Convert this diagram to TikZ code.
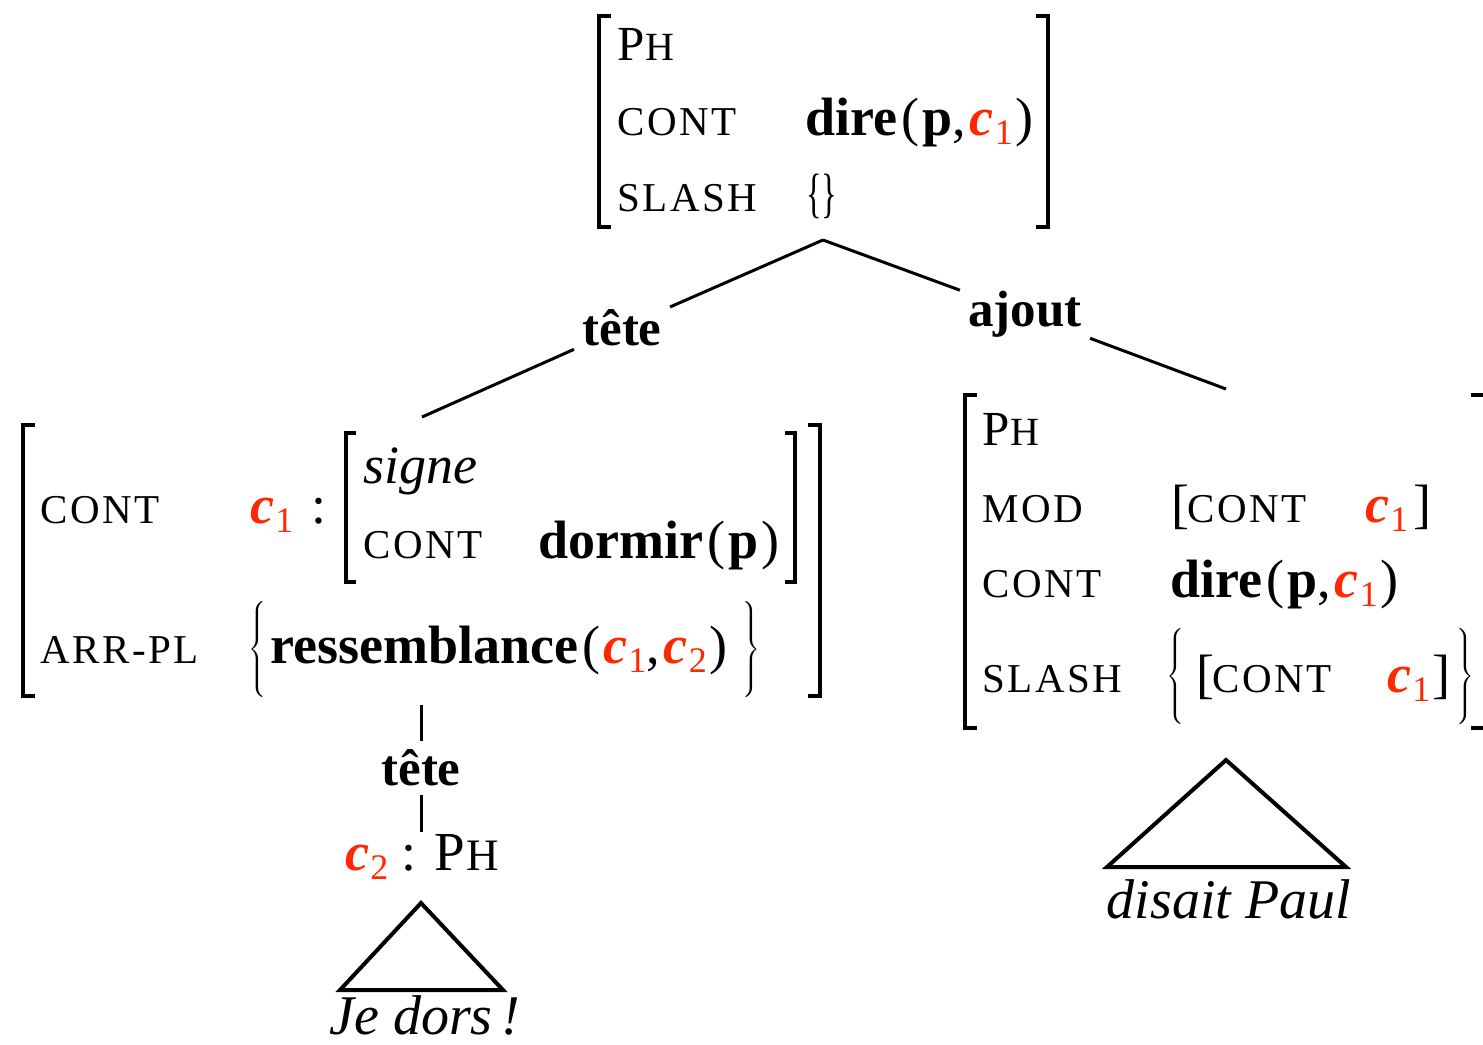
\documentclass[tikz,border=0pt]{standalone}
\usepackage{fontspec}
\setmainfont{Liberation Serif}
\newfontfamily\featfont[LetterSpace=6]{Liberation Serif}
\usepackage{xcolor}
\definecolor{cred}{RGB}{255,40,0}
\newcommand{\feat}[1]{{\featfont\fontsize{20.5}{24}\selectfont #1}}
\newcommand{\phx}{{\fontsize{24.5}{28}\selectfont P\kern0.5pt{\fontsize{20}{24}\selectfont H}}}
\newcommand{\redc}[1]{\textcolor{cred}{\textbf{\textit{c}}\kern0.5pt\raisebox{-4.5pt}{\fontsize{18}{18}\selectfont #1}}}
\newcommand{\lpar}{\kern2pt(\kern1.5pt}
\newcommand{\rpar}{\kern1.5pt)}
\newcommand{\cma}{,\kern2pt}
\newcommand{\tallL}{{\fontsize{12}{14}\selectfont$\delimitershortfall=0pt\delimiterfactor=1000\nulldelimiterspace=0pt\left\{\vrule height 25pt depth 19pt width 0pt\right.$}}
\newcommand{\tallR}{{\fontsize{12}{14}\selectfont$\delimitershortfall=0pt\delimiterfactor=1000\nulldelimiterspace=0pt\left.\vrule height 25pt depth 19pt width 0pt\right\}$}}
\tikzset{
  val/.style={anchor=base west, inner sep=0pt, font=\fontsize{27}{32}\selectfont},
  fl/.style={anchor=base west, inner sep=0pt},
  bracenode/.style={anchor=west, inner sep=0pt},
  edgelab/.style={font=\fontsize{25.5}{30}\selectfont\bfseries, inner sep=4pt},
  br/.style={line width=2.1pt, line join=miter},
  tree/.style={line width=1.5pt},
  tri/.style={line width=2pt, line join=miter},
  lexi/.style={anchor=base, inner sep=0pt, font=\fontsize{28}{32}\selectfont\itshape},
}
\begin{document}
\begin{tikzpicture}[x=0.5pt,y=-0.5pt]
\clip (0,0) rectangle (1483,1044);
\fill[white] (0,0) rectangle (1483,1044);

% ---------- top AVM ----------
\draw[br] (611,16) -- (599,16) -- (599,227) -- (611,227);
\draw[br] (1036,16) -- (1048,16) -- (1048,227) -- (1036,227);
\node[fl] (a-ph) at (617,60) {\phx};
\node[fl] (a-cont) at (617,135) {\feat{CONT}};
\node[val] (a-contv) at (805,135) {\textbf{dire}\lpar\textbf{p}\cma\redc{1}\rpar};
\node[fl] (a-slash) at (617,211) {\feat{SLASH}};
\node[val] (a-slashv) at (806,211) {\scalebox{0.6}[1]{\{\}}};

% ---------- tree edges ----------
\coordinate (topfoot) at (823,240);
\node[edgelab] (tete1) at (622,328) {tête};
\node[edgelab] (ajout) at (1025,314) {ajout};
\coordinate (lroot) at (422,417);
\coordinate (rroot) at (1226,389);
\draw[tree] (topfoot) -- (tete1);
\draw[tree] (tete1) -- (lroot);
\draw[tree] (topfoot) -- (ajout);
\draw[tree] (ajout) -- (rroot);

% ---------- left AVM ----------
\draw[br] (35,425) -- (23,425) -- (23,696) -- (35,696);
\draw[br] (808,425) -- (820,425) -- (820,696) -- (808,696);
\draw[line width=1.6pt] (356,433) -- (346,433) -- (346,582) -- (356,582);
\draw[line width=1.6pt] (785,433) -- (795,433) -- (795,582) -- (785,582);
\node[fl] (b-cont) at (40,523) {\feat{CONT}};
\node[val] (b-c1) at (250,523) {\redc{1}};
\node[val] (b-colon) at (311,523) {:};
\node[val] (b-signe) at (363,483) {\textit{signe}};
\node[fl] (b-icont) at (363,558) {\feat{CONT}};
\node[val] (b-dormir) at (538,558) {\textbf{dormir}\lpar\textbf{p}\rpar};
\node[fl] (b-arr) at (40,663) {\feat{ARR-PL}};
\node[bracenode] (b-lb) at (248,649) {\tallL};
\node[val] (b-res) at (270,663) {\textbf{ressemblance}\lpar\redc{1}\cma\redc{2}\rpar};
\node[bracenode] (b-rb) at ([xshift=7pt,yshift=7pt]b-res.base east) {\tallR};

% ---------- lower left ----------
\coordinate (lbot) at (421,705);
\node[edgelab] (tete2) at (421,768) {tête};
\coordinate (c2top) at (421,832);
\draw[tree] (lbot) -- (tete2);
\draw[tree] (tete2) -- (c2top);
\node[val] (c2ph) at (345,870) {\redc{2} : {\fontsize{27.5}{30}\selectfont P\kern0.5pt{\fontsize{22.5}{26}\selectfont H}}};
\draw[tri] (421,903) -- (503,990) -- (340,990) -- cycle;
\node[lexi] (je) at (425,1034) {Je dors\,!};

% ---------- right AVM ----------
\draw[br] (977,395) -- (965,395) -- (965,728) -- (977,728);
\draw[br] (1471,395) -- (1485,395) -- (1485,728) -- (1471,728);
\node[fl] (d-ph) at (982,445) {\phx};
\node[fl] (d-mod) at (982,522) {\feat{MOD}};
\node[val] (d-modlb) at (1171,522) {[};
\node[fl] (d-modc) at (1187,522) {\feat{CONT}};
\node[val] (d-modc1) at (1365,522) {\redc{1}};
\node[val] (d-modrb) at (1413,522) {]};
\node[fl] (d-cont) at (982,597) {\feat{CONT}};
\node[val] (d-contv) at (1170,597) {\textbf{dire}\lpar\textbf{p}\cma\redc{1}\rpar};
\node[fl] (d-slash) at (982,692) {\feat{SLASH}};
\node[bracenode] (d-lb) at (1166,676) {\tallL};
\node[val] (d-slb) at (1196,692) {[};
\node[fl] (d-sc) at (1212,692) {\feat{CONT}};
\node[val] (d-sc1) at (1387,692) {\redc{1}};
\node[val] (d-srb) at (1432,692) {]};
\node[bracenode] (d-rb) at (1456,676) {\tallR};

% ---------- lower right ----------
\draw[tri] (1226,760) -- (1346,867) -- (1107,867) -- cycle;
\node[lexi] (dp) at (1229,918) {disait Paul};
\end{tikzpicture}
\end{document}
